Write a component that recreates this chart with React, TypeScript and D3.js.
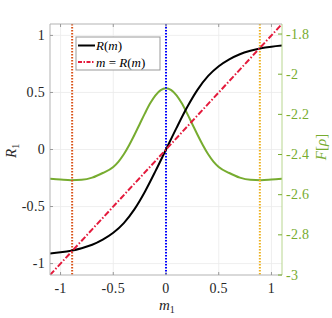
import * as d3 from "d3";

// R(m) curve samples
const mValues = [-1.1, -1.0, -0.9, -0.8, -0.7, -0.6, -0.5, -0.4, -0.3, -0.2, -0.1, 0, 0.1, 0.2, 0.3, 0.4, 0.5, 0.6, 0.7, 0.8, 0.9, 1.0, 1.1];
const rValues = [-0.911, -0.901, -0.887, -0.865, -0.835, -0.79, -0.73, -0.645, -0.525, -0.37, -0.19, 0, 0.19, 0.37, 0.525, 0.645, 0.73, 0.79, 0.835, 0.865, 0.887, 0.901, 0.911];

// free energy F[rho] samples
const fM = [-1.1, -1.0, -0.9, -0.8, -0.7, -0.6, -0.5, -0.45, -0.4, -0.35, -0.3, -0.25, -0.2, -0.15, -0.1, -0.05, 0, 0.05, 0.1, 0.15, 0.2, 0.25, 0.3, 0.35, 0.4, 0.45, 0.5, 0.6, 0.7, 0.8, 0.9, 1.0, 1.1];
const fValues = [-2.521, -2.525, -2.528, -2.526, -2.515, -2.492, -2.462, -2.435, -2.399, -2.354, -2.303, -2.249, -2.195, -2.145, -2.105, -2.079, -2.07, -2.079, -2.105, -2.145, -2.195, -2.249, -2.303, -2.354, -2.399, -2.435, -2.462, -2.492, -2.515, -2.526, -2.528, -2.525, -2.521];

const fixedPoints = [-0.89, 0, 0.89];
const fixedColors = ["#D95319", "#0000FF", "#EDB120"];

const xTicks = [-1, -0.5, 0, 0.5, 1];
const yTicks = [-1, -0.5, 0, 0.5, 1];
const fTicks = [-3, -2.8, -2.6, -2.4, -2.2, -2, -1.8];

const W = 332;
const H = 318;
const margin = { top: 24, right: 50, bottom: 43, left: 50 };
const font = "Liberation Serif, DejaVu Serif, serif";
const green = "#77AC30";
const tickSize = 14;

export default function App() {
  const iw = W - margin.left - margin.right;
  const ih = H - margin.top - margin.bottom;

  const x = d3.scaleLinear().domain([-1.1, 1.1]).range([0, iw]);
  const y = d3.scaleLinear().domain([-1.1, 1.1]).range([ih, 0]);
  const yF = d3.scaleLinear().domain([-3, -1.75]).range([ih, 0]);

  const rLine = d3
    .line<number>()
    .x((_, i) => x(mValues[i]))
    .y((d) => y(d))
    .curve(d3.curveMonotoneX)(rValues);

  const fLine = d3
    .line<number>()
    .x((_, i) => x(fM[i]))
    .y((d) => yF(d))
    .curve(d3.curveMonotoneX)(fValues);

  const diag = d3
    .line<number>()
    .x((d) => x(d))
    .y((d) => y(d))([-1.1, 1.1]);

  const fmt = (v: number) => String(v);

  return (
    <svg
      width={W}
      height={H}
      style={{ position: "absolute", left: 0, top: 0, background: "#fff", fontFamily: font }}
    >
      <defs>
        <clipPath id="plot">
          <rect width={iw} height={ih} />
        </clipPath>
      </defs>
      <g transform={`translate(${margin.left},${margin.top})`}>
        {/* grid */}
        {xTicks.map((t) => (
          <line key={"gx" + t} x1={x(t)} x2={x(t)} y1={0} y2={ih} stroke="#ebebeb" strokeWidth={0.8} />
        ))}
        {yTicks.map((t) => (
          <line key={"gy" + t} x1={0} x2={iw} y1={y(t)} y2={y(t)} stroke="#ebebeb" strokeWidth={0.8} />
        ))}

        <g clipPath="url(#plot)">
          <path d={fLine ?? ""} fill="none" stroke={green} strokeWidth={2} />
          {fixedPoints.map((p, i) => (
            <line
              key={"v" + i}
              x1={x(p)}
              x2={x(p)}
              y1={0}
              y2={ih}
              stroke={fixedColors[i]}
              strokeWidth={2}
              strokeDasharray="1.5,1.5"
            />
          ))}
          <path d={rLine ?? ""} fill="none" stroke="#000" strokeWidth={2} />
          <path d={diag ?? ""} fill="none" stroke="#E41A3C" strokeWidth={2} strokeDasharray="6,2,1.5,2" />
        </g>

        {/* box */}
        <line x1={0} x2={iw} y1={0} y2={0} stroke="#b3b3b3" />
        <line x1={0} x2={iw} y1={ih} y2={ih} stroke="#b3b3b3" />
        <line x1={0} x2={0} y1={0} y2={ih} stroke="#b3b3b3" />
        <line x1={iw} x2={iw} y1={0} y2={ih} stroke="#b8d68f" />

        {/* x ticks */}
        {xTicks.map((t) => (
          <g key={"xt" + t}>
            <line x1={x(t)} x2={x(t)} y1={ih} y2={ih - 3} stroke="#999" />
            <line x1={x(t)} x2={x(t)} y1={0} y2={3} stroke="#999" />
            <text x={x(t)} y={ih + 18} textAnchor="middle" fontSize={tickSize} letterSpacing={0.3} fill="#262626">
              {fmt(t)}
            </text>
          </g>
        ))}

        {/* left y ticks */}
        {yTicks.map((t) => (
          <g key={"yt" + t}>
            <line x1={0} x2={3} y1={y(t)} y2={y(t)} stroke="#999" />
            <text x={-5} y={y(t) + 4.5} textAnchor="end" fontSize={tickSize} letterSpacing={0.3} fill="#262626">
              {fmt(t)}
            </text>
          </g>
        ))}

        {/* right F ticks */}
        {fTicks.map((t) => (
          <g key={"ft" + t}>
            <line x1={iw} x2={iw - 4} y1={yF(t)} y2={yF(t)} stroke={green} />
            <text x={iw + 4} y={yF(t) + 4.5} textAnchor="start" fontSize={tickSize} letterSpacing={0.3} fill={green}>
              {fmt(t)}
            </text>
          </g>
        ))}

        {/* legend */}
        <g transform="translate(26,13)">
          <rect width={84} height={33} fill="#fff" stroke="#999" strokeWidth={1} />
          <line x1={2} x2={19} y1={8.5} y2={8.5} stroke="#000" strokeWidth={2} />
          <text x={20} y={13} fontSize={13} fill="#000">
            <tspan fontStyle="italic">R</tspan>(<tspan fontStyle="italic">m</tspan>)
          </text>
          <line x1={2} x2={19} y1={25} y2={25} stroke="#E41A3C" strokeWidth={2} strokeDasharray="4,1.5,1.5,1.5" />
          <text x={20} y={29.5} fontSize={13} fill="#000">
            <tspan fontStyle="italic">m</tspan> = <tspan fontStyle="italic">R</tspan>(<tspan fontStyle="italic">m</tspan>)
          </text>
        </g>
      </g>

      {/* axis labels */}
      <text x={159} y={310} fontSize={15} fill="#262626">
        <tspan fontStyle="italic">m</tspan>
        <tspan fontSize={10} dy={3}>1</tspan>
      </text>
      <text transform="translate(16,158) rotate(-90)" fontSize={15} fill="#262626">
        <tspan fontStyle="italic">R</tspan>
        <tspan fontSize={10} dy={3}>1</tspan>
      </text>
      <text transform="translate(326,147) rotate(-90)" textAnchor="middle" fontSize={15} fill={green}>
        <tspan fontStyle="italic">F</tspan>[<tspan fontStyle="italic">ρ</tspan>]
      </text>
    </svg>
  );
}
